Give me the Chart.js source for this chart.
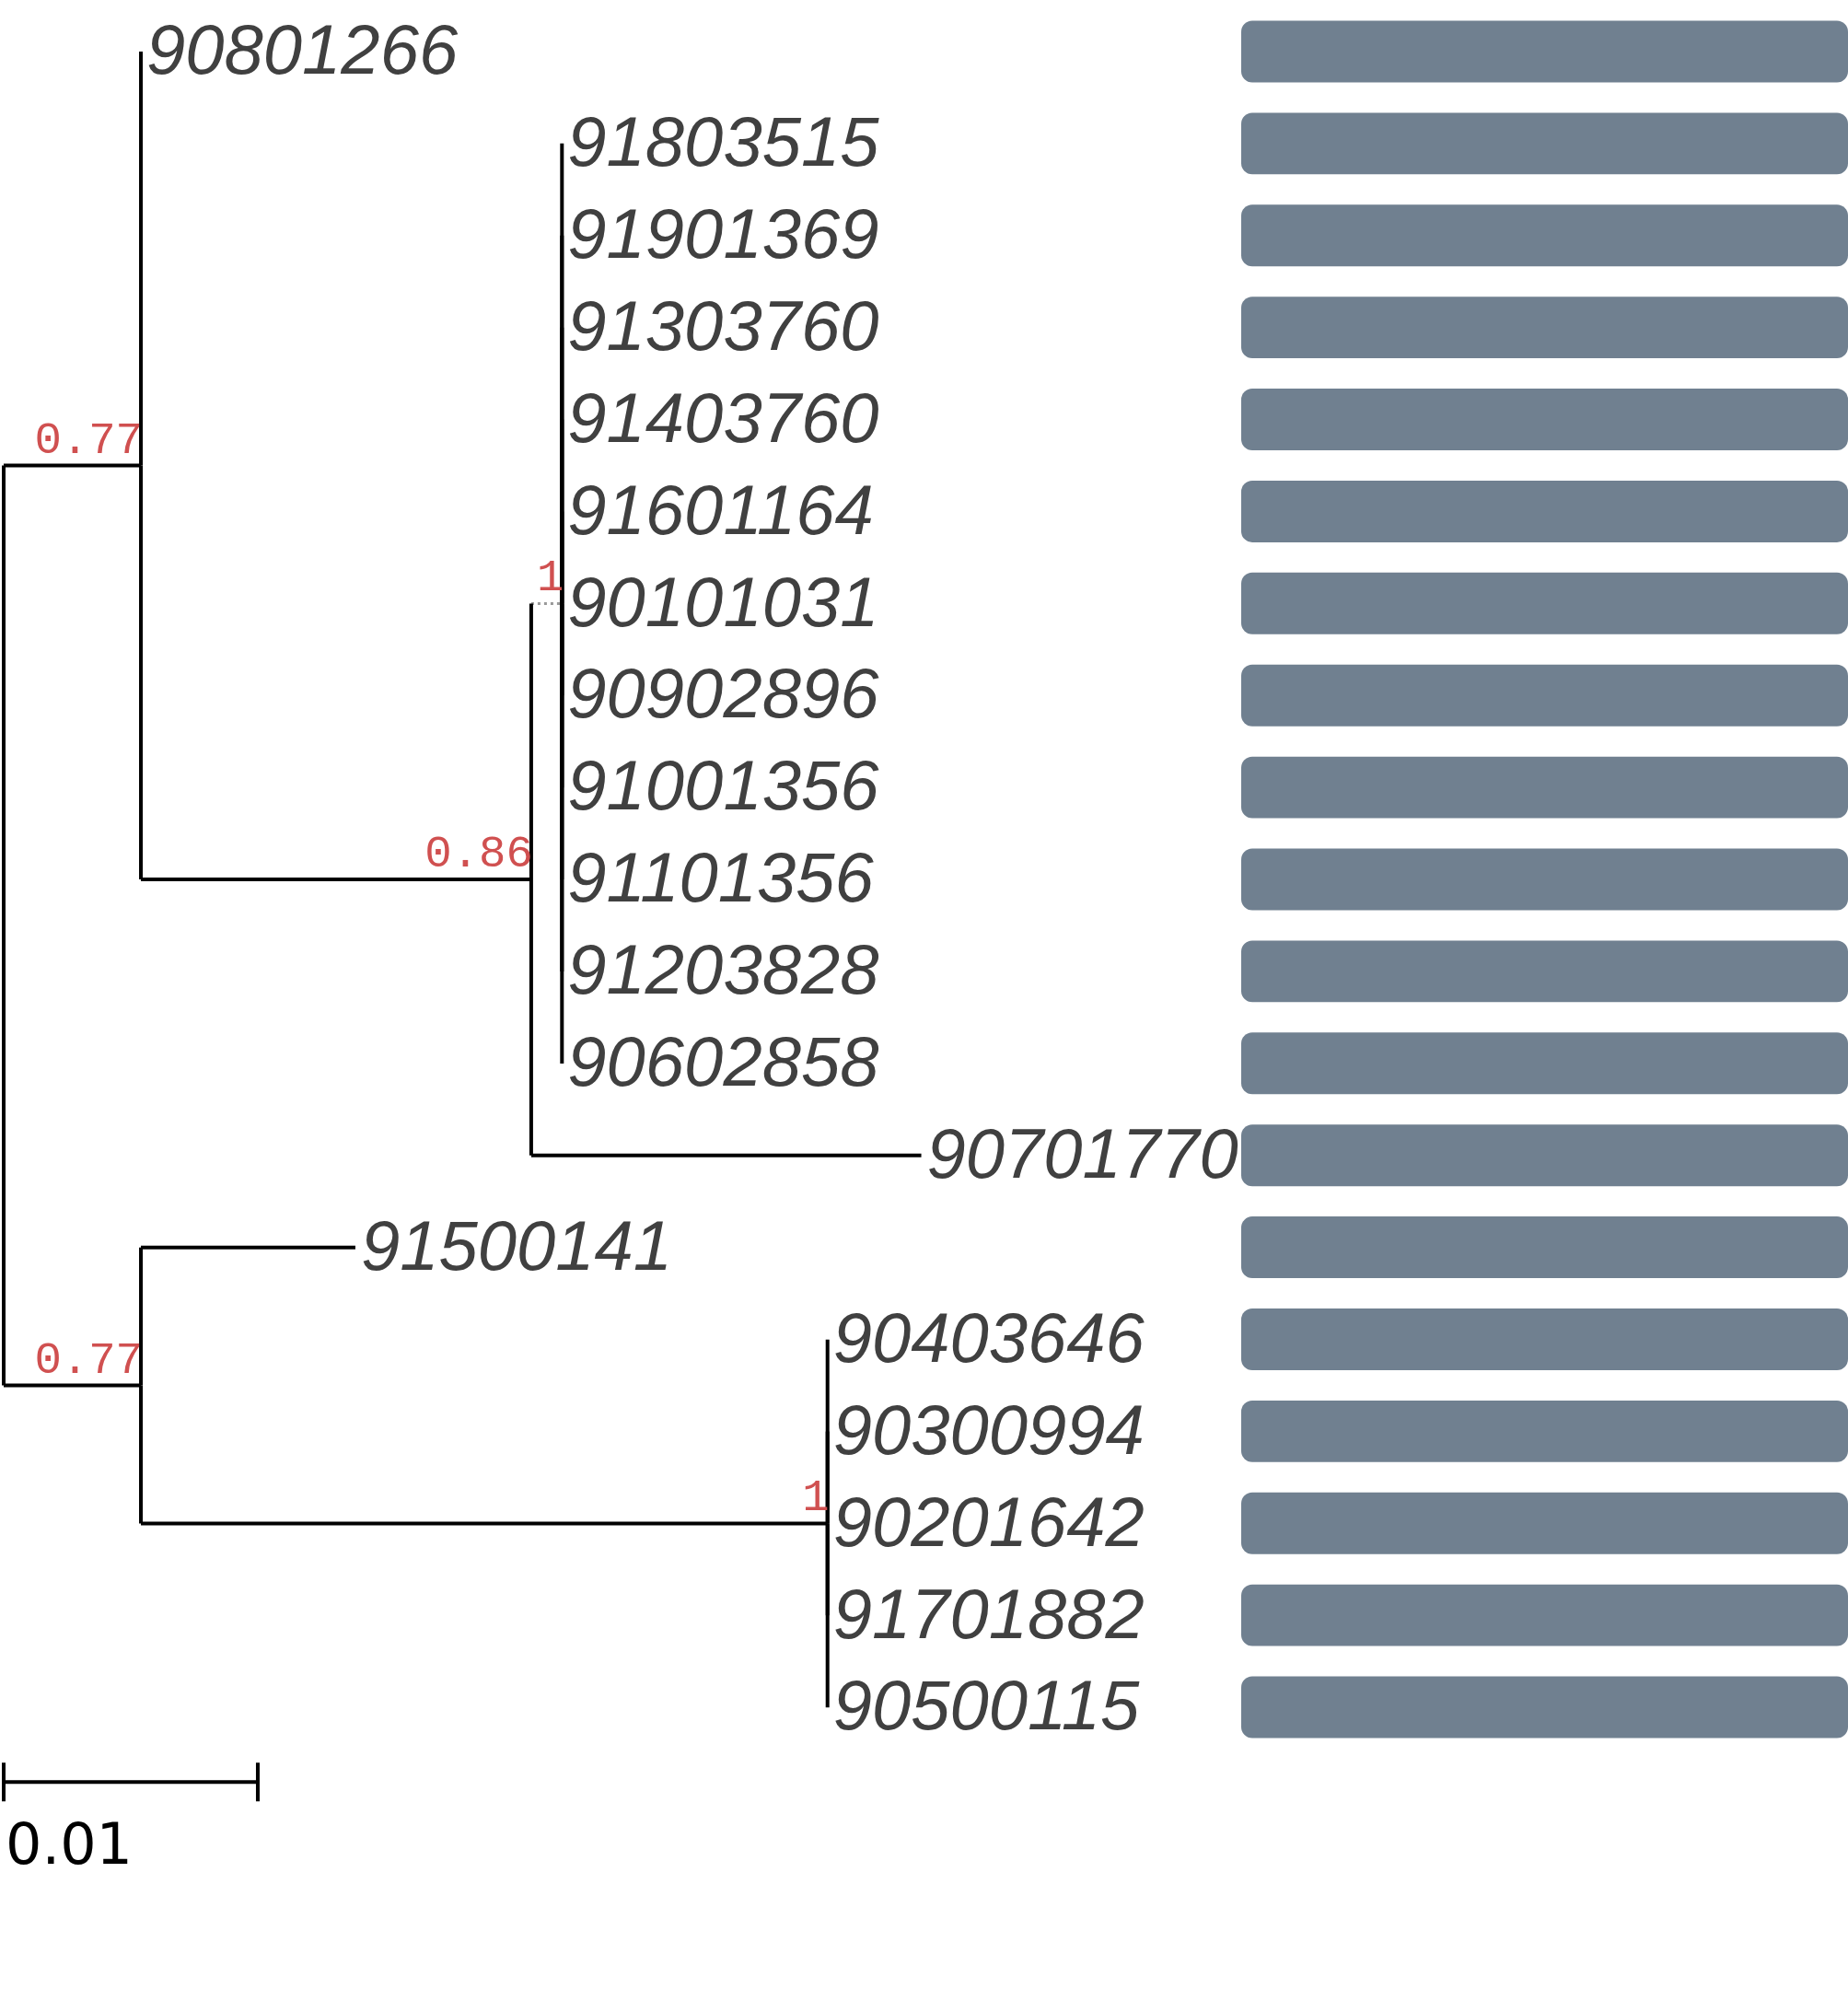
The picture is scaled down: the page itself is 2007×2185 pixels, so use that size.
<!DOCTYPE html>
<html><head><meta charset="utf-8">
<script src="https://cdn.jsdelivr.net/npm/chart.js@4"></script>
<style>
body{margin:0;background:#fff;width:2007px;height:2185px;position:relative;overflow:hidden}
#tree{position:absolute;left:0;top:0}
#bars{position:absolute;left:1348px;top:6px}
</style></head><body>
<canvas id="tree" width="1348" height="2185"></canvas>
<canvas id="bars" width="659" height="1898"></canvas>
<script>
// tips, top to bottom
const tipNames = ['90801266','91803515','91901369','91303760','91403760','91601164','90101031','90902896','91001356','91101356','91203828','90602858','90701770','91500141','90403646','90300994','90201642','91701882','90500115'];
const tipX = [0.0054,0.02197,0.02197,0.02197,0.02197,0.02197,0.02197,0.02197,0.02197,0.02197,0.02197,0.02197,0.03611,0.01384,0.03242,0.03242,0.03242,0.03242,0.03242];
const tipParent = ['A','C','C','C','C','C','C','C','C','C','C','C','B','D','E','E','E','E','E'];
// internal nodes
const nodeNames = ['R','A','D','B','C','E'];
const nodeX = [0,0.0054,0.0054,0.02076,0.02197,0.03242];
const nodeRow = [9.5,4.5,14.5,9,6,16];
const nodeParent = [null,'R','R','A','B','D'];
const nodeSupport = ['', '0.77','0.77','0.86','1','1'];
const scaleBar = 0.01;

const idx = n => nodeNames.indexOf(n);
const datasets = [];
function edge(px, py, cx, cy, dotted) {
  datasets.push({data:[{x:px,y:py},{x:px,y:cy}],showLine:true,borderColor:'#000',borderWidth:4,pointRadius:0,clip:false});
  datasets.push({data:[{x:px,y:cy},{x:cx,y:cy}],showLine:true,borderColor:dotted?'#999':'#000',borderWidth:dotted?3:4,borderDash:dotted?[3,4]:[],pointRadius:0,clip:false});
}
nodeNames.forEach((n,i)=>{ if(nodeParent[i]){const p=idx(nodeParent[i]); edge(nodeX[p],nodeRow[p],nodeX[i],nodeRow[i],n==='C');} });
tipNames.forEach((t,i)=>{ const p=idx(tipParent[i]); edge(nodeX[p],nodeRow[p],tipX[i],i,false); });
// scale bar
datasets.push({data:[{x:0,y:18.81},{x:scaleBar,y:18.81}],showLine:true,borderColor:'#000',borderWidth:4,pointRadius:0,clip:false});
datasets.push({data:[{x:0,y:18.6},{x:0,y:19.02}],showLine:true,borderColor:'#000',borderWidth:4,pointRadius:0,clip:false});
datasets.push({data:[{x:scaleBar,y:18.6},{x:scaleBar,y:19.02}],showLine:true,borderColor:'#000',borderWidth:4,pointRadius:0,clip:false});

const labels = {
  id:'labels',
  afterDatasetsDraw(chart){
    const c=chart.ctx, xs=chart.scales.x, ys=chart.scales.y;
    c.save();
    c.fillStyle='#404040'; c.font='italic 76px "Liberation Sans"'; c.textBaseline='middle'; c.textAlign='left';
    tipNames.forEach((t,i)=>c.fillText(t, xs.getPixelForValue(tipX[i])+6, ys.getPixelForValue(i)+3));
    c.fillStyle='#d05050'; c.font='49px "Liberation Mono"'; c.textAlign='right'; c.textBaseline='alphabetic';
    nodeNames.forEach((n,i)=>{ if(nodeSupport[i]) c.fillText(nodeSupport[i], xs.getPixelForValue(nodeX[i])+2, ys.getPixelForValue(nodeRow[i])-14); });
    c.fillStyle='#000'; c.font='62px "DejaVu Sans"'; c.textAlign='left';
    c.fillText(scaleBar.toString(), xs.getPixelForValue(0)+2, ys.getPixelForValue(19.7));
    c.restore();
  }
};

new Chart(document.getElementById('tree'), {
  type:'scatter',
  data:{datasets},
  options:{responsive:false,animation:false,
    layout:{padding:{left:4,right:0,top:6,bottom:31}},
    plugins:{legend:{display:false},tooltip:{enabled:false}},
    scales:{x:{type:'linear',min:0,max:0.0487,display:false},
            y:{type:'linear',min:-0.5,max:21,reverse:true,display:false}}},
  plugins:[labels]
});

new Chart(document.getElementById('bars'), {
  type:'bar',
  data:{labels:tipNames,datasets:[{data:tipNames.map(()=>1),backgroundColor:'#708090',borderRadius:12,borderSkipped:false,barPercentage:0.67,categoryPercentage:1}]},
  options:{responsive:false,animation:false,indexAxis:'y',
    layout:{padding:0},
    plugins:{legend:{display:false},tooltip:{enabled:false}},
    scales:{x:{min:0,max:1,display:false},y:{display:false}}}
});
</script></body></html>
